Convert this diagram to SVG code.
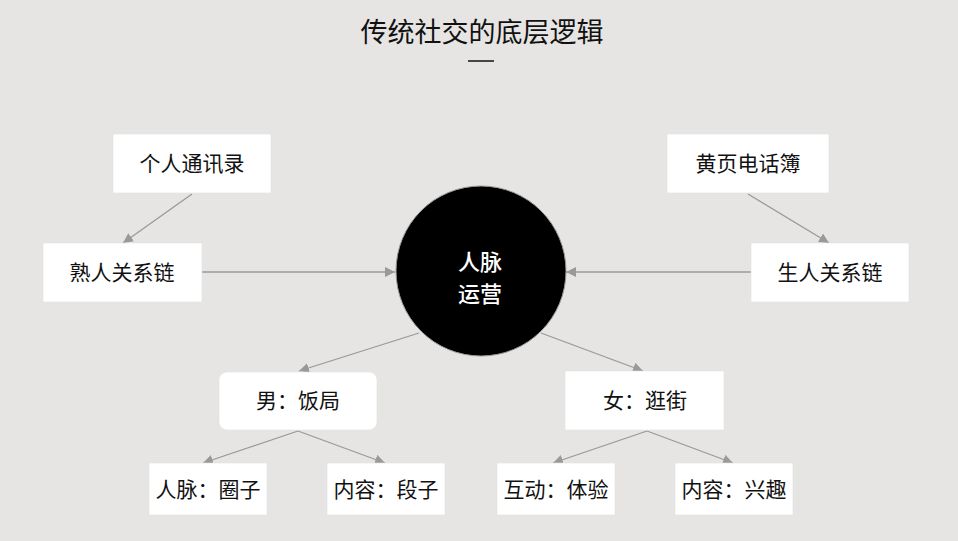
<svg xmlns="http://www.w3.org/2000/svg" width="958" height="541" viewBox="0 0 958 541">
<defs>
<marker id="ah" viewBox="0 0 10 10" refX="10" refY="5" markerWidth="10" markerHeight="10" markerUnits="userSpaceOnUse" orient="auto">
<path d="M0,0 L10,5 L0,10 z" fill="#999"/>
</marker>
</defs>
<style>
text{font-family:"Noto Sans CJK SC","Liberation Sans",sans-serif;text-anchor:middle;dominant-baseline:central;fill:#111}
.box{fill:#fff;stroke:#e0e0e0;stroke-width:0.6}
.lbl{font-size:21px}
.ctr{font-size:22px;font-weight:500;fill:#fff}
.conn line{stroke:#999;stroke-width:1.3;marker-end:url(#ah)}
</style>
<rect width="958" height="541" fill="#e6e5e3"/>
<g id="title">
<text x="482" y="30" style="font-size:27px">传统社交的底层逻辑</text>
<line x1="468" y1="61" x2="494" y2="61" stroke="#111" stroke-width="1.5"/>
</g>
<g class="conn" id="connectors">
<line x1="192" y1="194" x2="123" y2="243"/>
<line x1="202" y1="272" x2="395" y2="272"/>
<line x1="748" y1="194" x2="829" y2="243"/>
<line x1="751" y1="272" x2="566" y2="272"/>
<line x1="419" y1="333" x2="299" y2="371"/>
<line x1="541" y1="333" x2="643" y2="371"/>
<line x1="298" y1="431" x2="203" y2="463"/>
<line x1="298" y1="431" x2="385" y2="463"/>
<line x1="647" y1="431" x2="553" y2="463"/>
<line x1="647" y1="431" x2="733" y2="463"/>
</g>
<g id="n-txl"><rect class="box" x="113" y="134" width="158" height="59"/><text class="lbl" x="192" y="162">个人通讯录</text></g>
<g id="n-hy"><rect class="box" x="667" y="134" width="162" height="59"/><text class="lbl" x="748" y="162">黄页电话簿</text></g>
<g id="n-sr"><rect class="box" x="43" y="243" width="159" height="59"/><text class="lbl" x="122" y="271">熟人关系链</text></g>
<g id="n-str"><rect class="box" x="751" y="243" width="158" height="59"/><text class="lbl" x="830" y="271">生人关系链</text></g>
<g id="n-center"><circle cx="481" cy="271" r="85" fill="#000" stroke="#999" stroke-width="1"/>
<text class="ctr" x="480" y="260">人脉</text>
<text class="ctr" x="480" y="292">运营</text></g>
<g id="n-man"><rect class="box" x="219" y="372" width="158" height="58" rx="8"/><text class="lbl" x="298" y="399">男：饭局</text></g>
<g id="n-woman"><rect class="box" x="565" y="371" width="159" height="59"/><text class="lbl" x="645" y="399">女：逛街</text></g>
<g id="n-qz"><rect class="box" x="149" y="463" width="118" height="52"/><text class="lbl" x="208" y="488">人脉：圈子</text></g>
<g id="n-dz"><rect class="box" x="327" y="463" width="118" height="52"/><text class="lbl" x="386" y="488">内容：段子</text></g>
<g id="n-ty"><rect class="box" x="497" y="463" width="118" height="52"/><text class="lbl" x="556" y="488">互动：体验</text></g>
<g id="n-xq"><rect class="box" x="675" y="463" width="118" height="52"/><text class="lbl" x="734" y="488">内容：兴趣</text></g>
</svg>
